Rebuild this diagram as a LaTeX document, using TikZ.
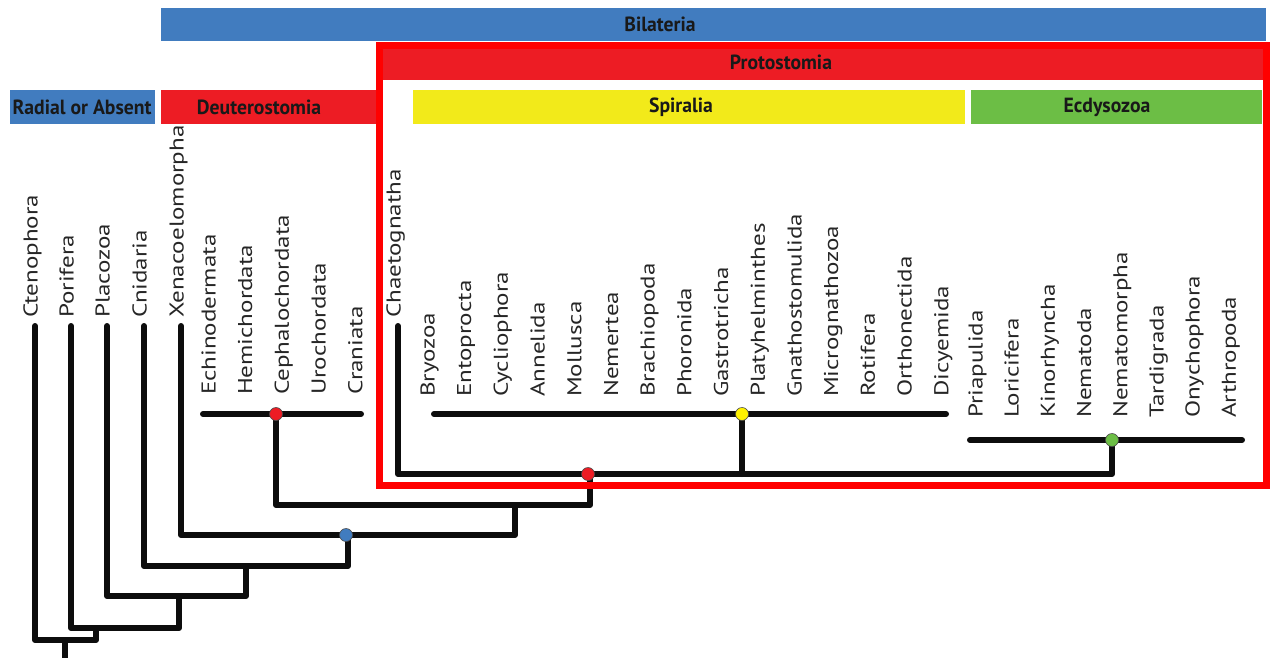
\documentclass[tikz,border=0pt]{standalone}
\usepackage{fontspec}
\setmainfont{PT Sans}
\newfontfamily\taxfont{PT Sans}[FakeStretch=1.25]
\newfontfamily\hdrfont{PT Sans}[FakeStretch=0.96]
\definecolor{bblue}{RGB}{65,124,191}
\definecolor{bred}{RGB}{237,28,36}
\definecolor{boxred}{RGB}{255,0,0}
\definecolor{byellow}{RGB}{242,234,26}
\definecolor{bgreen}{RGB}{108,190,69}
\definecolor{dyellow}{RGB}{255,242,0}
\begin{document}
\begin{tikzpicture}[x=1pt,y=-1pt,
  taxon/.style={rotate=90,anchor=west,inner sep=0pt,text=black!85,
    font=\taxfont\fontsize{20}{20}\selectfont,text height=0.72em,text depth=0.22em},
  branch/.style={line width=6pt,line cap=round,line join=round,black!95},
  hdr/.style={inner sep=0pt,text=black!90,font=\hdrfont\bfseries\fontsize{20.5}{20.5}\selectfont},
  dot/.style={circle,draw=black!70,line width=0.6pt,minimum size=13pt,inner sep=0pt}]
\useasboundingbox (0,0) rectangle (1271,658);
% header bars
\fill[bblue] (161,8) rectangle (1266,41);
\node[hdr] (tBil) at (660,24) {Bilateria};
\fill[bred] (379,42) rectangle (1266,80);
\node[hdr] (tPro) at (781,62) {Protostomia};
\fill[bblue] (10,90) rectangle (155,124);
\node[hdr] (tRad) at (82,107) {Radial or Absent};
\fill[bred] (161,90) rectangle (376,124);
\node[hdr] (tDeu) at (259,107) {Deuterostomia};
\fill[byellow] (413,90) rectangle (965,124);
\node[hdr] (tSpi) at (681,107) {Spiralia};
\fill[bgreen] (971,90) rectangle (1262,124);
\node[hdr] (tEcd) at (1107,107) {Ecdysozoa};
% taxa, top row
\node[taxon] (Ct) at (35,318) {Ctenophora};
\node[taxon] (Po) at (71,318) {Porifera};
\node[taxon] (Pl) at (107,318) {Placozoa};
\node[taxon] (Cn) at (144,318) {Cnidaria};
\node[taxon] (Xe) at (181,318) {Xenacoelomorpha};
\node[taxon] (Ch) at (398,318) {Chaetognatha};
% deuterostomes
\foreach \n [count=\i from 0] in {Echinodermata,Hemichordata,Cephalochordata,Urochordata,Craniata}
  \node[taxon] (D\i) at (213+36.7*\i,395) {\n};
% spiralians
\foreach \n [count=\i from 0] in {Bryozoa,Entoprocta,Cycliophora,Annelida,Mollusca,Nemertea,Brachiopoda,Phoronida,Gastrotricha,Platyhelminthes,Gnathostomulida,Micrognathozoa,Rotifera,Orthonectida,Dicyemida}
  \node[taxon] (S\i) at (432+36.7*\i,397) {\n};
% ecdysozoans
\foreach \n [count=\i from 0] in {Priapulida,Loricifera,Kinorhyncha,Nematoda,Nematomorpha,Tardigrada,Onychophora,Arthropoda}
  \node[taxon] (E\i) at (980+36.2*\i,418) {\n};
% tree coordinates
\coordinate (ct) at (35,326);
\coordinate (po) at (71,326);
\coordinate (pl) at (107,326);
\coordinate (cn) at (144,326);
\coordinate (xe) at (181,326);
\coordinate (ch) at (398,326);
\coordinate (root) at (65,658);
\coordinate (nA) at (65,640);
\coordinate (nB) at (96,628);
\coordinate (nC) at (179,596);
\coordinate (nD) at (246,566);
\coordinate (nE) at (348,535);
\coordinate (nF) at (515,505);
\coordinate (nDeu) at (276,414);
\coordinate (nPro) at (590,474);
\coordinate (nSpi) at (742,414);
\coordinate (nEcd) at (1112,440);
\coordinate (dL) at (203,414);
\coordinate (dR) at (361,414);
\coordinate (sL) at (434,414);
\coordinate (sR) at (946,414);
\coordinate (eL) at (970,440);
\coordinate (eR) at (1242,440);
% branches
\draw[branch] (ct) |- (nA -| nB) -- (nB);
\draw[branch] (nA) -- (root);
\draw[branch] (po) |- (nB -| nC) -- (nC);
\draw[branch] (pl) |- (nC -| nD) -- (nD);
\draw[branch] (cn) |- (nD -| nE) -- (nE);
\draw[branch] (xe) |- (nE -| nF) -- (nF);
\draw[branch] (dL) -- (dR);
\draw[branch] (nDeu) |- (nF -| nPro) -- (nPro);
\draw[branch] (ch) |- (nPro -| nEcd) -- (nEcd);
\draw[branch] (sL) -- (sR);
\draw[branch] (nSpi) -- (nSpi |- nPro);
\draw[branch] (eL) -- (eR);
% protostome box
\draw[boxred,line width=7pt] (379,45.5) rectangle (1266,485);
% node dots
\node[dot,fill=bblue] (dotBil) at (346,535) {};
\node[dot,fill=bred] (dotDeu) at (nDeu) {};
\node[dot,fill=bred] (dotPro) at (588,474) {};
\node[dot,fill=dyellow] (dotSpi) at (nSpi) {};
\node[dot,fill=bgreen] (dotEcd) at (nEcd) {};
\end{tikzpicture}
\end{document}
